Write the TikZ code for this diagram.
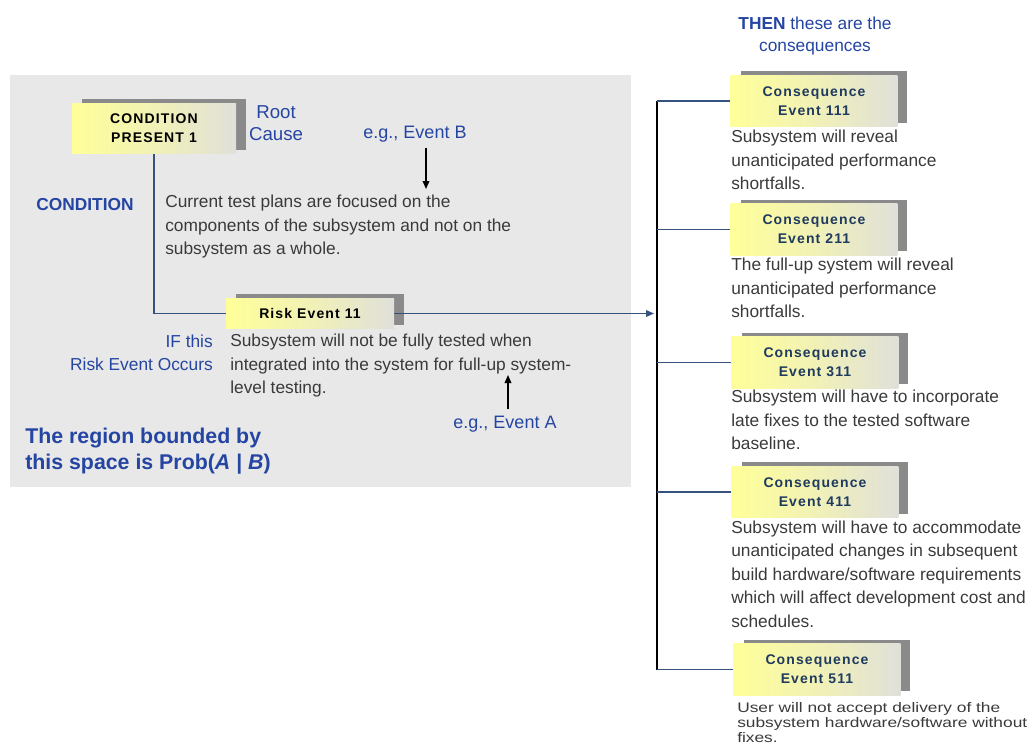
\documentclass[tikz,border=0pt]{standalone}
\usepackage{fontspec}
\usepackage{graphicx}
\setmainfont{Liberation Sans}
\newfontfamily\boxfont[LetterSpace=8.0]{Liberation Sans}
\usetikzlibrary{arrows.meta,shadows}
\definecolor{bgc}{HTML}{E8E8E8}
\definecolor{lblue}{HTML}{2545A2}
\definecolor{lnk}{HTML}{35527F}
\definecolor{shd}{HTML}{8A8A8A}
\definecolor{byel}{HTML}{FFFF99}
\definecolor{bgray}{HTML}{E0E0DA}
\definecolor{desc}{HTML}{3A3A3A}
\definecolor{cnavy}{HTML}{1F3A5F}
\begin{document}
\begin{tikzpicture}[x=0.75pt,y=-0.75pt,
  box/.style={draw=none, left color=byel, right color=bgray, middle color=byel!55!bgray,
    general shadow={fill=shd, shadow xshift=7.5pt, shadow yshift=3pt},
    align=center, inner sep=0pt, font=\boxfont\bfseries\fontsize{10.5}{14.5}\selectfont},
  cbox/.style={box, minimum width=125pt, minimum height=38.5pt, text=cnavy},
  lab/.style={text=lblue, inner sep=0pt, font=\fontsize{13.5}{16.5}\selectfont},
  body/.style={text=desc, inner sep=0pt, align=left, anchor=base west, font=\fontsize{13}{17.6}\selectfont},
  link/.style={draw=lnk, line width=1pt},
  tip/.style={-{Triangle[length=6pt,width=5pt]}}
]
\useasboundingbox (0,0) rectangle (1032,754);
\fill[bgc] (10,75) rectangle (631,487);

% left part
\node[box, minimum width=123pt, minimum height=38pt] (cond) at (154,128.5) {CONDITION\\PRESENT 1};
\node[box, minimum width=126pt, minimum height=23pt] (risk) at (310,313.5) {Risk Event 11};

\node[lab, font=\fontsize{14}{16.5}\selectfont, align=center, anchor=base] (root) at (276,140) {Root\\Cause};
\node[lab, anchor=base] (egB) at (415,138) {e.g., Event B};
\coordinate (bB1) at (426,148);
\coordinate (bB2) at (426,189);
\draw[line width=1pt, tip] (bB1) -- (bB2);
\node[lab, font=\bfseries\fontsize{13}{16}\selectfont, anchor=base] (condlab) at (85,210) {CONDITION};
\node[body] (cur) at (165,254.5) {Current test plans are focused on the\\components of the subsystem and not on the\\subsystem as a whole.};
\node[lab, font=\fontsize{13}{17.3}\selectfont, align=right, anchor=base east] (ifthis) at (213,370.5) {IF this\\Risk Event Occurs};
\node[body] (riskd) at (230,393.5) {Subsystem will not be fully tested when\\integrated into the system for full-up system-\\level testing.};
\coordinate (bA1) at (508,409);
\coordinate (bA2) at (508,375);
\draw[line width=1pt, tip] (bA1) -- (bA2);
\node[lab, anchor=base] (egA) at (505,428) {e.g., Event A};
\node[lab, align=left, anchor=base west, font=\bfseries\fontsize{16}{19.5}\selectfont] (region) at (25,469.5) {The region bounded by\\this space is Prob(\textit{A} | \textit{B})};

\draw[link] (cond.south) |- (risk.west);

% right part
\node[lab, font=\fontsize{13}{16.5}\selectfont, align=center, anchor=base] (then) at (815,51.5) {\textbf{THEN} these are the\\consequences};
\node[cbox] (c1) at (814,101) {Consequence\\Event 111};
\node[cbox] (c2) at (814,229.5) {Consequence\\Event 211};
\node[cbox] (c3) at (815,362.5) {Consequence\\Event 311};
\node[cbox] (c4) at (815,492) {Consequence\\Event 411};
\node[cbox] (c5) at (817,669.5) {Consequence\\Event 511};

\coordinate (bustop) at (657,101);
\coordinate (busbot) at (657,669.5);
\coordinate (busin) at (654,313.5);
\draw[line width=1.3pt, black] (bustop) -- (busbot);
\draw[link, tip] (risk.east) -- (busin);
\foreach \c in {c1,c2,c3,c4,c5} \draw[link] (\c.west -| bustop) -- (\c.west);

\node[body] (d1) at (731,189.5) {Subsystem will reveal\\unanticipated performance\\shortfalls.};
\node[body] (d2) at (731,317.5) {The full-up system will reveal\\unanticipated performance\\shortfalls.};
\node[body] (d3) at (731,449.5) {Subsystem will have to incorporate\\late fixes to the tested software\\baseline.};
\node[body] (d4) at (731,627) {Subsystem will have to accommodate\\unanticipated changes in subsequent\\build hardware/software requirements\\which will affect development cost and\\schedules.};
\node[body] (d5) at (737,742) {\scalebox{1}[0.8]{\fontsize{13}{14}\selectfont\begin{tabular}[b]{@{}l@{}}User will not accept delivery of the\\subsystem hardware/software without\\fixes.\end{tabular}}};
\end{tikzpicture}
\end{document}
